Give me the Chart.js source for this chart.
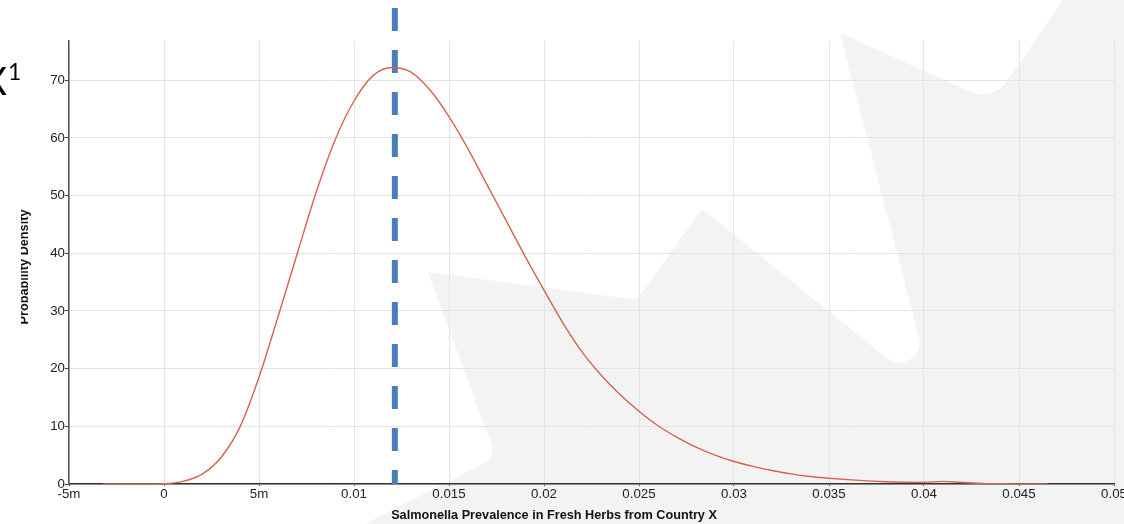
<!DOCTYPE html>
<html>
<head>
<meta charset="utf-8">
<script src="https://cdn.jsdelivr.net/npm/chart.js@4.4.1/dist/chart.umd.min.js"></script>
<style>
  html, body { margin: 0; padding: 0; background: #fff; overflow: hidden; }
  #wrap { width: 1124px; height: 524px; position: relative; }
</style>
</head>
<body>
<div id="wrap"><canvas id="chart"></canvas></div>
<script>
// prevalence (x) and probability density (y)
var prevalence = [-0.0032, -0.002, -0.001, 0, 0.001, 0.002, 0.003, 0.004, 0.005,
  0.006, 0.007, 0.008, 0.009, 0.010, 0.011, 0.012, 0.013, 0.014, 0.015,
  0.016, 0.017, 0.018, 0.019, 0.020, 0.021, 0.022, 0.023, 0.024, 0.025,
  0.026, 0.027, 0.028, 0.029, 0.030, 0.031, 0.032, 0.033, 0.034, 0.035,
  0.036, 0.037, 0.038, 0.039, 0.040, 0.041, 0.042, 0.043, 0.044, 0.045, 0.0465];
var density = [0, 0, 0, 0.05, 0.45, 1.7, 4.6, 9.9, 18.5,
  29.0, 39.8, 50.5, 59.6, 66.4, 70.8, 72.2, 71.4, 68.3, 63.7,
  58.1, 51.9, 45.7, 39.5, 33.6, 27.9, 22.9, 18.9, 15.5, 12.6,
  10.1, 8.1, 6.4, 5.0, 3.9, 3.05, 2.35, 1.75, 1.3, 1.0,
  0.75, 0.55, 0.4, 0.3, 0.28, 0.45, 0.25, 0.1, 0.05, 0.02, 0];

// dashed marker line (x position, top and bottom y values)
var markerX = 0.01215;
var markerY = [82.5, 0];

var xTickValues = [-0.005, 0, 0.005, 0.01, 0.015, 0.02, 0.025, 0.03, 0.035, 0.04, 0.045, 0.05];
var xTickLabels = ['-5m', '0', '5m', '0.01', '0.015', '0.02', '0.025', '0.03', '0.035', '0.04', '0.045', '0.05'];
var yTickValues = [0, 10, 20, 30, 40, 50, 60, 70];

var xTitle = 'Salmonella Prevalence in Fresh Herbs from Country X';
var yTitle = 'Probability Density';

var curvePoints = prevalence.map(function (p, i) { return {x: p, y: density[i]}; });
var markerPoints = markerY.map(function (v) { return {x: markerX, y: v}; });

var tickFont = {family: '"Liberation Sans", Arial, sans-serif', size: 13.3};

// background watermark + hand-drawn titles
var backdrop = {
  id: 'backdrop',
  beforeDraw: function (chart) {
    var ctx = chart.ctx;
    ctx.save();
    ctx.fillStyle = '#ffffff';
    ctx.fillRect(0, 0, chart.width, chart.height);
    ctx.fillStyle = '#f3f3f3';
    ctx.beginPath();
    ctx.moveTo(365, 524);
    ctx.arcTo(496, 457, 428, 272, 15);
    ctx.lineTo(428, 272);
    ctx.arcTo(637, 300, 702, 209, 15);
    ctx.lineTo(702, 209);
    ctx.arcTo(934, 396, 840, 33, 20);
    ctx.lineTo(840, 33);
    ctx.arcTo(993, 102, 1063, 0, 30);
    ctx.lineTo(1063, 0);
    ctx.lineTo(1130, 0);
    ctx.lineTo(1130, 524);
    ctx.closePath();
    ctx.fill();
    ctx.restore();
  },
  afterDraw: function (chart) {
    var ctx = chart.ctx;
    ctx.save();
    ctx.fillStyle = '#111';
    ctx.font = 'bold 12.7px "Liberation Sans", Arial, sans-serif';
    ctx.textAlign = 'center';
    ctx.textBaseline = 'alphabetic';
    ctx.fillText(xTitle, 554, 519);

    // y title, its left edge is cut off in the original
    ctx.save();
    ctx.beginPath();
    ctx.rect(21, 0, 40, chart.height);
    ctx.clip();
    ctx.translate(28, 267);
    ctx.rotate(-Math.PI / 2);
    ctx.fillText(yTitle, 0, 0);
    ctx.restore();

    // slide text peeking in at the left edge
    ctx.fillStyle = '#000';
    ctx.font = '38px Lato, "Open Sans", sans-serif';
    ctx.textAlign = 'right';
    ctx.fillText('X', 7, 95);
    ctx.font = '23px Lato, "Open Sans", sans-serif';
    ctx.textAlign = 'left';
    ctx.fillText('1', 8, 80);
    ctx.restore();
  }
};

new Chart(document.getElementById('chart'), {
  type: 'line',
  data: {
    datasets: [
      {
        data: curvePoints,
        borderColor: '#d5634f',
        borderWidth: 1.4,
        pointRadius: 0,
        fill: false,
        cubicInterpolationMode: 'monotone'
      },
      {
        data: markerPoints,
        borderColor: '#4a7ebb',
        borderWidth: 6,
        borderDash: [23, 19],
        borderCapStyle: 'butt',
        pointRadius: 0,
        fill: false,
        clip: false
      }
    ]
  },
  options: {
    responsive: true,
    maintainAspectRatio: false,
    animation: false,
    events: [],
    layout: {padding: {top: 41, right: 10, left: 0, bottom: 0}},
    plugins: {legend: {display: false}, tooltip: {enabled: false}},
    scales: {
      x: {
        type: 'linear',
        min: -0.005,
        max: 0.05,
        afterBuildTicks: function (scale) {
          scale.ticks = xTickValues.map(function (v) { return {value: v}; });
        },
        afterFit: function (scale) {
          scale.height = 40;
          scale.paddingLeft = 0;
          scale.paddingRight = 0;
        },
        grid: {color: '#e3e3e3', tickColor: '#444', tickLength: 2},
        border: {color: '#333', width: 1.5},
        ticks: {
          autoSkip: false,
          maxRotation: 0,
          padding: 0,
          color: '#222',
          font: tickFont,
          callback: function (v, i) { return xTickLabels[i]; }
        }
      },
      y: {
        min: 0,
        max: 76.8,
        afterBuildTicks: function (scale) {
          scale.ticks = yTickValues.map(function (v) { return {value: v}; });
        },
        afterFit: function (scale) {
          scale.width = 69;
          scale.paddingTop = 0;
          scale.paddingBottom = 0;
        },
        grid: {color: '#e3e3e3', tickColor: '#444', tickLength: 4},
        border: {color: '#555', width: 1.5},
        ticks: {padding: 0, color: '#222', font: tickFont}
      }
    }
  },
  plugins: [backdrop]
});
</script>
</body>
</html>
